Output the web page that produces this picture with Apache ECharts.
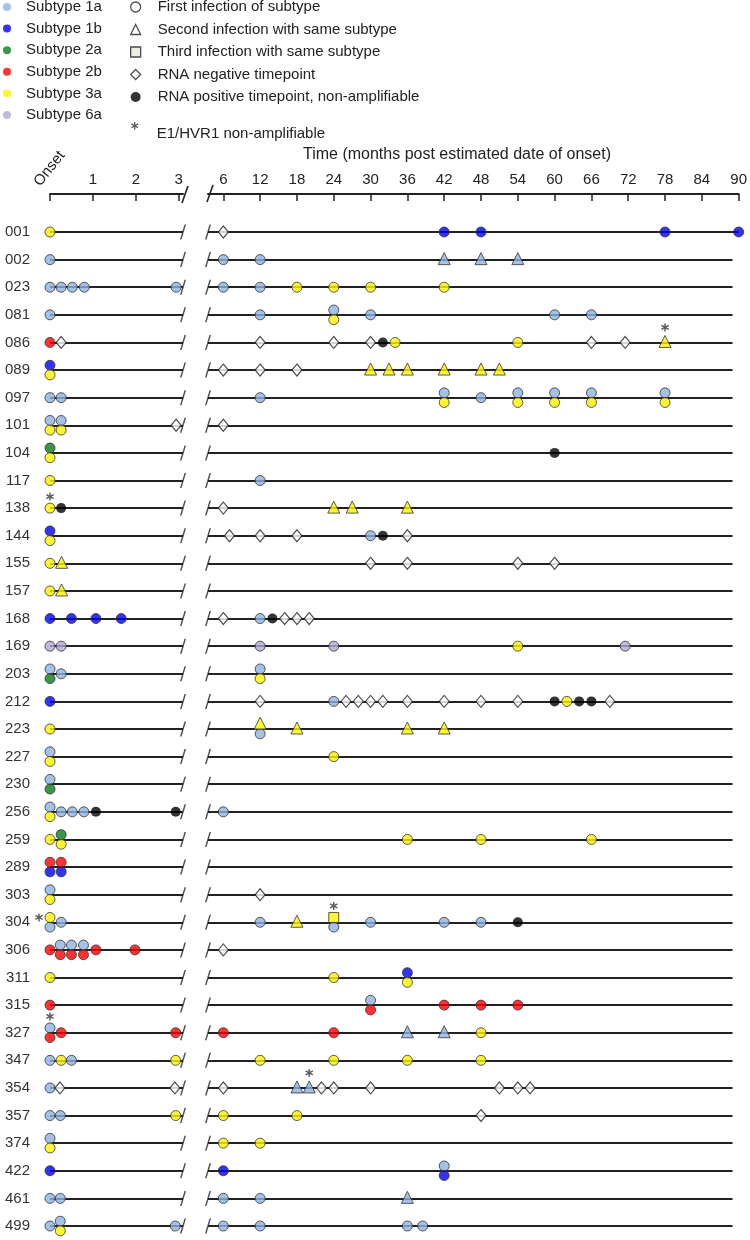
<!DOCTYPE html>
<html>
<head>
<meta charset="utf-8">
<script src="https://cdn.jsdelivr.net/npm/echarts@6/dist/echarts.min.js"></script>
<style>
  * { margin: 0; padding: 0; }
  #main { width: 750px; height: 1240px; }
</style>
</head>
<body>
<div id="main"></div>
<script>
// subjects, top to bottom
var subjects = ['001','002','023','081','086','089','097','101','104','117','138','144','155','157',
  '168','169','203','212','223','227','230','256','259','289','303','304','306','311','315','327',
  '347','354','357','374','422','461','499'];

var onsetTicks = [0, 1, 2, 3];
var timeTicks = [6, 12, 18, 24, 30, 36, 42, 48, 54, 60, 66, 72, 78, 84, 90];

// [subject, month, shape (c first / t second / s third), stack (-1 upper, 0, 1 lower)]
var subtype1a = [
  ['002',0,'c',0],['002',6,'c',0],['002',12,'c',0],['002',42,'t',0],['002',48,'t',0],['002',54,'t',0],
  ['023',0,'c',0],['023',0.26,'c',0],['023',0.52,'c',0],['023',0.8,'c',0],['023',2.94,'c',0],['023',6,'c',0],['023',12,'c',0],
  ['081',0,'c',0],['081',12,'c',0],['081',24,'c',-1],['081',30,'c',0],['081',60,'c',0],['081',66,'c',0],
  ['097',0,'c',0],['097',0.26,'c',0],['097',12,'c',0],['097',42,'c',-1],['097',48,'c',0],['097',54,'c',-1],
  ['097',60,'c',-1],['097',66,'c',-1],['097',78,'c',-1],
  ['101',0,'c',-1],['101',0.26,'c',-1],
  ['117',12,'c',0],
  ['144',30,'c',0],
  ['168',12,'c',0],
  ['203',0,'c',-1],['203',0.26,'c',0],['203',12,'c',-1],
  ['212',24,'c',0],
  ['223',12,'c',1],
  ['227',0,'c',-1],
  ['230',0,'c',-1],
  ['256',0,'c',-1],['256',0.26,'c',0],['256',0.52,'c',0],['256',0.79,'c',0],['256',6,'c',0],
  ['303',0,'c',-1],
  ['304',0,'c',1],['304',0.26,'c',0],['304',12,'c',0],['304',24,'c',1],['304',30,'c',0],['304',42,'c',0],['304',48,'c',0],
  ['306',0.24,'c',-1],['306',0.5,'c',-1],['306',0.78,'c',-1],
  ['315',30,'c',-1],
  ['327',0,'c',-1],['327',36,'t',0],['327',42,'t',0],
  ['347',0,'c',0],['347',0.5,'c',0],
  ['354',0,'c',0],['354',18,'t',0],['354',20,'t',0],
  ['357',0,'c',0],['357',0.24,'c',0],
  ['374',0,'c',-1],
  ['422',42,'c',-1],
  ['461',0,'c',0],['461',0.24,'c',0],['461',6,'c',0],['461',12,'c',0],['461',36,'t',0],
  ['499',0,'c',0],['499',0.24,'c',-1],['499',2.92,'c',0],['499',6,'c',0],['499',12,'c',0],['499',36,'c',0],['499',38.5,'c',0]
];
var subtype1b = [
  ['001',42,'c',0],['001',48,'c',0],['001',78,'c',0],['001',90,'c',0],
  ['089',0,'c',-1],
  ['144',0,'c',-1],
  ['168',0,'c',0],['168',0.5,'c',0],['168',1.07,'c',0],['168',1.66,'c',0],
  ['212',0,'c',0],
  ['289',0,'c',1],['289',0.26,'c',1],
  ['311',36,'c',-1],
  ['422',0,'c',0],['422',6,'c',0],['422',42,'c',1]
];
var subtype2a = [
  ['104',0,'c',-1],
  ['203',0,'c',1],
  ['230',0,'c',1],
  ['259',0.26,'c',-1]
];
var subtype2b = [
  ['086',0,'c',0],
  ['289',0,'c',-1],['289',0.26,'c',-1],
  ['306',0,'c',0],['306',0.24,'c',1],['306',0.5,'c',1],['306',0.78,'c',1],['306',1.07,'c',0],['306',1.98,'c',0],
  ['315',0,'c',0],['315',30,'c',1],['315',42,'c',0],['315',48,'c',0],['315',54,'c',0],
  ['327',0,'c',1],['327',0.26,'c',0],['327',2.93,'c',0],['327',6,'c',0],['327',24,'c',0]
];
var subtype3a = [
  ['001',0,'c',0],
  ['023',18,'c',0],['023',24,'c',0],['023',30,'c',0],['023',42,'c',0],
  ['081',24,'c',1],
  ['086',34,'c',0],['086',54,'c',0],['086',78,'t',0],
  ['089',0,'c',1],['089',30,'t',0],['089',33,'t',0],['089',36,'t',0],['089',42,'t',0],['089',48,'t',0],['089',51,'t',0],
  ['097',42,'c',1],['097',54,'c',1],['097',60,'c',1],['097',66,'c',1],['097',78,'c',1],
  ['101',0,'c',1],['101',0.26,'c',1],
  ['104',0,'c',1],
  ['117',0,'c',0],
  ['138',0,'c',0],['138',24,'t',0],['138',27,'t',0],['138',36,'t',0],
  ['144',0,'c',1],
  ['155',0,'c',0],['155',0.27,'t',0],
  ['157',0,'c',0],['157',0.27,'t',0],
  ['169',54,'c',0],
  ['203',12,'c',1],
  ['212',62,'c',0],
  ['223',0,'c',0],['223',12,'t',-1],['223',18,'t',0],['223',36,'t',0],['223',42,'t',0],
  ['227',0,'c',1],['227',24,'c',0],
  ['256',0,'c',1],
  ['259',0,'c',0],['259',0.26,'c',1],['259',36,'c',0],['259',48,'c',0],['259',66,'c',0],
  ['303',0,'c',1],
  ['304',0,'c',-1],['304',18,'t',0],['304',24,'s',-1],
  ['311',0,'c',0],['311',24,'c',0],['311',36,'c',1],
  ['327',48,'c',0],
  ['347',0.26,'c',0],['347',2.93,'c',0],['347',12,'c',0],['347',24,'c',0],['347',36,'c',0],['347',48,'c',0],
  ['357',2.93,'c',0],['357',6,'c',0],['357',18,'c',0],
  ['374',0,'c',1],['374',6,'c',0],['374',12,'c',0],
  ['499',0.24,'c',1]
];
var subtype6a = [
  ['169',0,'c',0],['169',0.26,'c',0],['169',12,'c',0],['169',24,'c',0],['169',71.5,'c',0]
];
// [subject, month]
var rnaNegative = [
  ['001',6],
  ['086',0.26],['086',12],['086',24],['086',30],['086',66],['086',71.5],
  ['089',6],['089',12],['089',18],
  ['101',2.94],['101',6],
  ['138',6],
  ['144',7],['144',12],['144',18],['144',36],
  ['155',30],['155',36],['155',54],['155',60],
  ['168',6],['168',16],['168',18],['168',20],
  ['212',12],['212',26],['212',28],['212',30],['212',32],['212',36],['212',42],['212',48],['212',54],['212',69],
  ['303',12],
  ['306',6],
  ['354',0.23],['354',2.91],['354',6],['354',22],['354',24],['354',30],['354',51],['354',54],['354',56],
  ['357',48]
];
var rnaPositive = [
  ['086',32],['104',60],['138',0.26],['144',32],['168',14],
  ['212',60],['212',64],['212',66],['256',1.07],['256',2.93],['304',54]
];
// [subject, month, shape marked, stack of marked symbol, side]
var hvr1Missing = [
  ['086',78,'t',0,'top'],['138',0,'c',0,'top'],['304',0,'c',-1,'left'],
  ['304',24,'s',-1,'top'],['327',0,'c',-1,'top'],['354',20,'t',0,'top']
];

var FONT = 'Liberation Sans, Arial, Helvetica, sans-serif';
var INK = '#222';
var ONSET_END = 3.1, TIME_START = 3.5, TIME_END = 90, ROW_END = 89;
var STACK_GAP = 4.8;
var SHAPE = { c: 'circle', t: 'triangle', s: 'rect' };
var SIZE = { c: 10, t: 12, s: 10 };
var SLASH = 'path://M0,15L4.5,0L6,0L1.5,15Z';
var STAR = 'M3.3,0L4.7,0L4.7,8L3.3,8Z M0.15,2.61L0.85,1.39L7.85,5.39L7.15,6.61Z M0.15,5.39L7.15,1.39L7.85,2.61L0.85,6.61Z';

var groups = [
  { name: 'Subtype 1a', color: '#8db3e2', data: subtype1a },
  { name: 'Subtype 1b', color: '#0000f0', data: subtype1b },
  { name: 'Subtype 2a', color: '#0a7d1a', data: subtype2a },
  { name: 'Subtype 2b', color: '#ff0000', data: subtype2b },
  { name: 'Subtype 3a', color: '#fff200', data: subtype3a },
  { name: 'Subtype 6a', color: '#b4a7d6', data: subtype6a }
];

function row(id) { return subjects.indexOf(id); }
function inPanel(m, p) { return p === 0 ? m <= ONSET_END : m > ONSET_END; }

function shapeItems(list, p) {
  return list.filter(function (e) { return inPanel(e[1], p); }).map(function (e) {
    return {
      value: [e[1], row(e[0])],
      symbol: SHAPE[e[2]],
      symbolSize: SIZE[e[2]],
      symbolOffset: [0, e[3] * STACK_GAP - (e[2] === 't' ? 1 : 0)]
    };
  });
}

function lastMonth(id) {
  var m = 0;
  [subtype1a, subtype1b, subtype2a, subtype2b, subtype3a, subtype6a, rnaNegative, rnaPositive].forEach(function (l) {
    l.forEach(function (e) { if (e[0] === id && e[1] > m) m = e[1]; });
  });
  return m;
}

var series = [];
[0, 1].forEach(function (p) {
  series.push({
    type: 'lines', coordinateSystem: 'cartesian2d', xAxisIndex: p, yAxisIndex: p, silent: true, z: 1,
    lineStyle: { color: INK, width: 1.8, opacity: 1 },
    data: subjects.map(function (id, i) {
      var a = p === 0 ? 0 : TIME_START;
      var b = p === 0 ? ONSET_END : Math.max(ROW_END, lastMonth(id));
      return { coords: [[a, i], [b, i]] };
    })
  });
  series.push({
    type: 'scatter', xAxisIndex: p, yAxisIndex: p, silent: true, z: 2,
    symbol: SLASH, symbolSize: [6, 15], itemStyle: { color: INK },
    data: subjects.map(function (id, i) { return [p === 0 ? ONSET_END : TIME_START, i]; })
  });
  groups.forEach(function (g) {
    series.push({
      type: 'scatter', name: g.name, xAxisIndex: p, yAxisIndex: p, z: 3,
      itemStyle: { color: g.color, borderColor: '#333', borderWidth: 1 },
      data: shapeItems(g.data, p)
    });
  });
  series.push({
    type: 'scatter', name: 'RNA negative timepoint', xAxisIndex: p, yAxisIndex: p, z: 3,
    symbol: 'diamond', symbolSize: [10, 12],
    itemStyle: { color: '#fff', borderColor: INK, borderWidth: 1.2 },
    data: rnaNegative.filter(function (e) { return inPanel(e[1], p); })
      .map(function (e) { return [e[1], row(e[0])]; })
  });
  series.push({
    type: 'scatter', name: 'RNA positive timepoint, non-amplifiable', xAxisIndex: p, yAxisIndex: p, z: 3,
    symbol: 'circle', symbolSize: 10, itemStyle: { color: '#000' },
    data: rnaPositive.filter(function (e) { return inPanel(e[1], p); })
      .map(function (e) { return [e[1], row(e[0])]; })
  });
  series.push({
    type: 'scatter', name: 'E1/HVR1 non-amplifiable', xAxisIndex: p, yAxisIndex: p, z: 4,
    symbol: 'path://' + STAR, symbolSize: 8, itemStyle: { color: '#333' },
    data: hvr1Missing.filter(function (e) { return inPanel(e[1], p); }).map(function (e) {
      var base = e[3] * STACK_GAP;
      return {
        value: [e[1], row(e[0])],
        symbolOffset: e[4] === 'left' ? [-11, base] : [0, base - (e[2] === 't' ? 15 : 11.5)]
      };
    })
  });
});
// legend-only entries
['First infection of subtype', 'Second infection with same subtype', 'Third infection with same subtype']
  .forEach(function (n) { series.push({ type: 'scatter', name: n, xAxisIndex: 1, yAxisIndex: 1, data: [] }); });

function legendText(pad) {
  return { fontSize: 15, color: INK, fontFamily: FONT, lineHeight: 16, padding: [0, 0, 0, pad] };
}
var hollow = { color: '#fff', borderColor: INK, borderWidth: 1.3 };

var option = {
  animation: false,
  backgroundColor: '#fff',
  legend: [
    {
      data: groups.map(function (g) { return g.name; }),
      orient: 'vertical', left: 3, top: -1, padding: 0,
      itemWidth: 8, itemHeight: 8, itemGap: 5.6, icon: 'circle',
      itemStyle: { borderWidth: 0 }, textStyle: legendText(10), selectedMode: false
    },
    {
      data: [
        { name: 'First infection of subtype', icon: 'circle', itemStyle: hollow },
        { name: 'Second infection with same subtype', icon: 'triangle', itemStyle: hollow },
        { name: 'Third infection with same subtype', icon: 'rect', itemStyle: { color: '#e8e8e2', borderColor: INK, borderWidth: 1.3 } },
        { name: 'RNA negative timepoint', icon: 'diamond', itemStyle: hollow },
        { name: 'RNA positive timepoint, non-amplifiable', icon: 'circle', itemStyle: { color: '#000', borderWidth: 0 } }
      ],
      orient: 'vertical', left: 130, top: -1, padding: 0,
      itemWidth: 10, itemHeight: 10, itemGap: 6.5, textStyle: legendText(12), selectedMode: false
    },
    {
      data: [{ name: 'E1/HVR1 non-amplifiable', icon: 'path://' + STAR + ' M4,24.9L4.1,25L3.9,25Z', itemStyle: { color: '#333', borderWidth: 0 } }],
      orient: 'vertical', left: 131, top: 122, padding: 0,
      itemWidth: 8, itemHeight: 24, textStyle: legendText(13), selectedMode: false
    }
  ],
  grid: [
    { left: 50, width: 133, top: 232, bottom: 14 },
    { left: 208, right: 7, top: 232, bottom: 14 }
  ],
  xAxis: [
    {
      gridIndex: 0, type: 'value', min: 0, max: ONSET_END, position: 'top', offset: 38,
      axisLine: { show: true, onZero: false, lineStyle: { color: INK, width: 2 } },
      axisTick: { show: true, inside: true, length: 7, customValues: onsetTicks, lineStyle: { color: INK, width: 1.5 } },
      axisLabel: { customValues: onsetTicks.slice(1), fontSize: 15, color: INK, fontFamily: FONT, margin: 7 },
      splitLine: { show: false }
    },
    {
      gridIndex: 1, type: 'value', min: TIME_START, max: TIME_END, position: 'top', offset: 38,
      axisLine: { show: true, onZero: false, lineStyle: { color: INK, width: 2 } },
      axisTick: { show: true, inside: true, length: 7, customValues: timeTicks, lineStyle: { color: INK, width: 1.5 } },
      axisLabel: { customValues: timeTicks, fontSize: 15, color: INK, fontFamily: FONT, margin: 7 },
      splitLine: { show: false }
    }
  ],
  yAxis: [
    {
      gridIndex: 0, type: 'category', data: subjects, inverse: true, boundaryGap: false,
      axisLine: { show: false }, axisTick: { show: false }, splitLine: { show: false },
      axisLabel: { fontSize: 15, color: '#333', fontFamily: FONT, margin: 20 }
    },
    { gridIndex: 1, type: 'category', data: subjects, inverse: true, boundaryGap: false, show: false }
  ],
  graphic: [
    {
      type: 'text', x: 43, y: 189, rotation: 0.9,
      style: { text: 'Onset', font: '15px ' + FONT, fill: INK, textAlign: 'left', textVerticalAlign: 'bottom' }
    },
    {
      type: 'text', x: 457, y: 155,
      style: { text: 'Time (months post estimated date of onset)', font: '16px ' + FONT, fill: INK, textAlign: 'center', textVerticalAlign: 'middle' }
    },
    { type: 'polyline', shape: { points: [[182, 203], [188, 186]] }, style: { stroke: INK, lineWidth: 1.6, fill: null } },
    { type: 'polyline', shape: { points: [[207, 202], [213, 185]] }, style: { stroke: INK, lineWidth: 1.6, fill: null } }
  ],
  series: series
};

var chart = echarts.init(document.getElementById('main'));
chart.setOption(option);
</script>
</body>
</html>
